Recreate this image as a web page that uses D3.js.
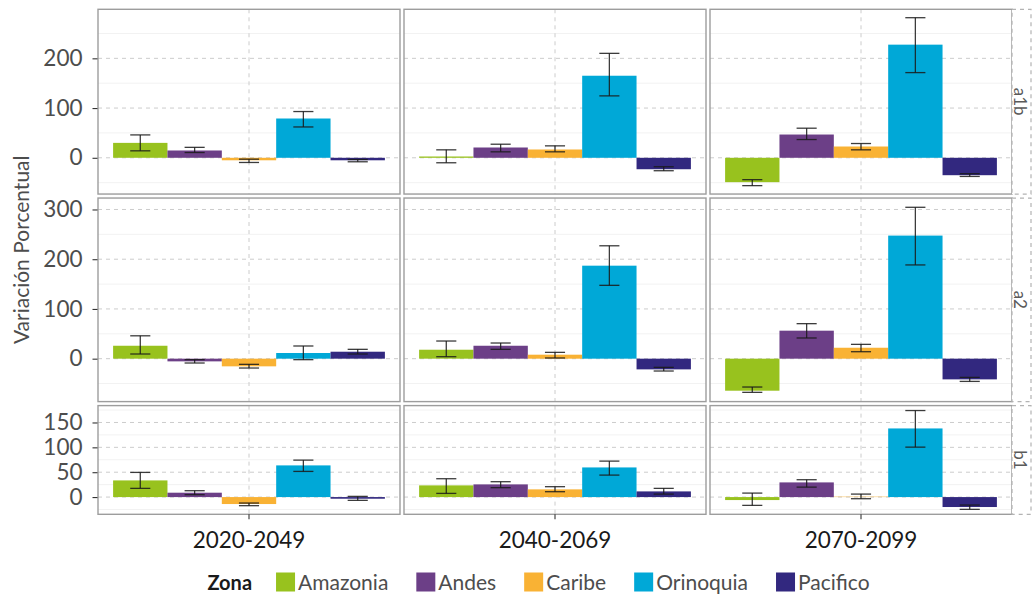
<!DOCTYPE html>
<html>
<head>
<meta charset="utf-8">
<script src="https://cdn.jsdelivr.net/npm/d3@7/dist/d3.min.js"></script>
<style>
  html, body { margin: 0; padding: 0; background: #ffffff; }
  svg { display: block; font-family: Lato, "Open Sans", sans-serif; }
</style>
</head>
<body>
<svg id="chart" width="1032" height="600"></svg>
<script>
// Zones, periods and emission scenarios
const zones = ["Amazonia", "Andes", "Caribe", "Orinoquia", "Pacifico"];
const periods = ["2020-2049", "2040-2069", "2070-2099"];
const scenarios = ["a1b", "a2", "b1"];
const zoneColors = ["#98c21e", "#6c3f87", "#f9b234", "#00a8d7", "#32287f"];

// Percent change per period (rows) and zone (columns): mean, lower and upper bound
const a1bMean = [[30, 14.7, -5, 79, -5], [2.6, 20.7, 16.7, 165, -23], [-49, 46.8, 22.7, 227.5, -35]];
const a1bLow  = [[14, 10.6, -9.4, 62, -8], [-10, 12, 12, 124.5, -26], [-56, 36.7, 16, 171.3, -37.5]];
const a1bHigh = [[46, 21, -2.8, 93, -3.4], [16, 27.3, 24, 210, -18], [-44, 59.5, 28.7, 281.7, -32]];

const a2Mean = [[26, -5.4, -15.4, 11.4, 14], [18, 26, 8, 187, -21.5], [-64.4, 56.3, 22, 247.5, -41.6]];
const a2Low  = [[9.4, -8.7, -18.8, -2, 9.4], [4, 18.8, 1.4, 147.5, -24.8], [-67.7, 41.6, 14, 188.5, -45.7]];
const a2High = [[46, -2, -11.4, 25.5, 18.8], [35.5, 31.5, 12.7, 227, -17.4], [-57, 70.4, 28.8, 304.4, -37.6]];

const b1Mean = [[33.5, 8.8, -14, 63.7, -3.3], [23.5, 25.5, 15.5, 59.6, 11.4], [-6, 29.5, 0.8, 138, -20]];
const b1Low  = [[17.5, 4.8, -17.3, 51.6, -6.6], [7.4, 18.9, 10.8, 44.2, 6], [-16.7, 20, -3.3, 100.4, -24.7]];
const b1High = [[49.6, 12.8, -12, 74.3, 1.4], [36.9, 30.9, 20.9, 72.3, 17.5], [8, 34.9, 6, 174, -16]];

// Y-axis tick labels per scenario row
const ticksA1b = [0, 100, 200];
const ticksA2 = [0, 100, 200, 300];
const ticksB1 = [0, 50, 100, 150];

const yTitle = "Variación Porcentual";
const legendTitle = "Zona";

const seriesByScenario = {
  a1b: { mean: a1bMean, low: a1bLow, high: a1bHigh, ticks: ticksA1b },
  a2:  { mean: a2Mean,  low: a2Low,  high: a2High,  ticks: ticksA2 },
  b1:  { mean: b1Mean,  low: b1Low,  high: b1High,  ticks: ticksB1 }
};

const svg = d3.select("#chart");

// Facet layout
const plotLeft = 98, panelW = 302, colGap = 4;
const plotTop = 9.3, plotBottom = 514.3, rowGap = 4;
const stripW = 19;

// Each row gets its own y range (5% padding), heights proportional to the range
const rows = scenarios.map(s => {
  const d = seriesByScenario[s];
  const all = d.mean.flat().concat(d.low.flat(), d.high.flat(), [0]);
  const lo = d3.min(all), hi = d3.max(all);
  const pad = (hi - lo) * 0.05;
  return { key: s, data: d, domain: [lo - pad, hi + pad] };
});
const totalSpan = d3.sum(rows, r => r.domain[1] - r.domain[0]);
const availH = (plotBottom - plotTop) - rowGap * (rows.length - 1);
let yCursor = plotTop;
rows.forEach(r => {
  r.h = availH * (r.domain[1] - r.domain[0]) / totalSpan;
  r.y0 = yCursor;
  r.scale = d3.scaleLinear().domain(r.domain).range([r.y0 + r.h, r.y0]);
  yCursor += r.h + rowGap;
});

const colX = d3.scaleBand().domain(periods)
  .range([plotLeft, plotLeft + 3 * panelW + 2 * colGap])
  .paddingInner(colGap / (panelW + colGap)).paddingOuter(0);

rows.forEach(r => {
  const y = r.scale;
  const ticks = r.data.ticks;
  const step = ticks[1] - ticks[0];
  const minor = d3.range(Math.floor(r.domain[0] / step) * step + step / 2, r.domain[1], step)
    .filter(v => v > r.domain[0] && v < r.domain[1]);

  periods.forEach((p, pi) => {
    const x0 = colX(p), w = colX.bandwidth();
    const g = svg.append("g");
    // minor grid
    g.selectAll("line.minor").data(minor).join("line")
      .attr("x1", x0).attr("x2", x0 + w)
      .attr("y1", d => y(d)).attr("y2", d => y(d))
      .attr("stroke", "#f2f2f2").attr("stroke-width", 1);
    // major grid
    g.selectAll("line.major").data(ticks).join("line")
      .attr("x1", x0).attr("x2", x0 + w)
      .attr("y1", d => y(d)).attr("y2", d => y(d))
      .attr("stroke", "#cccccc").attr("stroke-width", 1).attr("stroke-dasharray", "4,4");
    // vertical grid at the category centre
    g.append("line")
      .attr("x1", x0 + w / 2).attr("x2", x0 + w / 2)
      .attr("y1", r.y0).attr("y2", r.y0 + r.h)
      .attr("stroke", "#cccccc").attr("stroke-width", 1).attr("stroke-dasharray", "4,4");

    // dodged bars
    const xb = d3.scaleBand().domain(zones).range([x0 + w * 0.05, x0 + w * 0.95]).padding(0);
    const rowsData = zones.map((z, zi) => ({
      zone: z, color: zoneColors[zi],
      v: r.data.mean[pi][zi], lo: r.data.low[pi][zi], hi: r.data.high[pi][zi]
    }));
    g.selectAll("rect.bar").data(rowsData).join("rect")
      .attr("x", d => xb(d.zone))
      .attr("width", xb.bandwidth())
      .attr("y", d => y(Math.max(0, d.v)))
      .attr("height", d => Math.abs(y(d.v) - y(0)))
      .attr("fill", d => d.color);

    // error bars
    const capW = xb.bandwidth() * 0.37;
    const cx = d => xb(d.zone) + xb.bandwidth() / 2;
    const eb = g.selectAll("g.err").data(rowsData).join("g")
      .attr("stroke", "#1a1a1a").attr("stroke-width", 1.3).attr("stroke-opacity", 0.85);
    eb.append("line")
      .attr("x1", cx).attr("x2", cx)
      .attr("y1", d => y(d.lo)).attr("y2", d => y(d.hi));
    eb.append("line")
      .attr("x1", d => cx(d) - capW / 2).attr("x2", d => cx(d) + capW / 2)
      .attr("y1", d => y(d.lo)).attr("y2", d => y(d.lo));
    eb.append("line")
      .attr("x1", d => cx(d) - capW / 2).attr("x2", d => cx(d) + capW / 2)
      .attr("y1", d => y(d.hi)).attr("y2", d => y(d.hi));

    // panel border
    g.append("rect")
      .attr("x", x0).attr("y", r.y0).attr("width", w).attr("height", r.h)
      .attr("fill", "none").attr("stroke", "#9d9d9d").attr("stroke-width", 1.4);
  });

  // y axis on the first column
  const axis = d3.axisLeft(y).tickValues(ticks).tickSize(5).tickPadding(10).tickFormat(d3.format("d"));
  const ag = svg.append("g").attr("transform", `translate(${plotLeft - 0.5},0)`).call(axis);
  ag.select(".domain").remove();
  ag.selectAll(".tick line").attr("stroke", "#333333").attr("stroke-width", 1.1);
  ag.selectAll(".tick text").attr("fill", "#4d4d4d").style("font-size", "22.5px").style("font-family", "Lato, sans-serif");

  // strip on the right
  const sx = plotLeft + 3 * panelW + 2 * colGap;
  svg.append("rect")
    .attr("x", sx).attr("y", r.y0).attr("width", stripW).attr("height", r.h)
    .attr("fill", "#ffffff").attr("stroke", "#b3b3b3").attr("stroke-width", 1.2).attr("stroke-dasharray", "4,4");
  svg.append("text")
    .attr("transform", `translate(${sx + 8},${r.y0 + r.h / 2}) rotate(90)`)
    .attr("text-anchor", "middle").attr("dy", "0.35em")
    .attr("fill", "#5a5a5a").style("font-size", "17px")
    .text(r.key);
});

// x axis at the bottom
const xAxis = d3.axisBottom(colX).tickSize(5).tickPadding(13);
const xg = svg.append("g").attr("transform", `translate(0,${plotBottom})`).call(xAxis);
xg.select(".domain").remove();
xg.selectAll(".tick line").attr("stroke", "#333333").attr("stroke-width", 1.1);
xg.selectAll(".tick text").attr("fill", "#1a1a1a").style("font-size", "22.5px").style("font-family", "Lato, sans-serif");

// y title
svg.append("text")
  .attr("transform", `translate(22,${(plotTop + plotBottom) / 2 - 12}) rotate(-90)`)
  .attr("text-anchor", "middle").attr("dy", "0.35em")
  .attr("fill", "#4d4d4d").style("font-size", "21px")
  .text(yTitle);

// legend
const lg = svg.append("g");
const legY = 583, keyS = 19;
const titleT = lg.append("text").attr("x", 0).attr("y", legY).attr("dy", "0.35em")
  .attr("fill", "#1a1a1a").style("font-size", "20px").style("font-weight", "bold").text(legendTitle);
let lx = titleT.node().getComputedTextLength() + 24;
zones.forEach((z, i) => {
  lg.append("rect").attr("x", lx).attr("y", legY - keyS / 2 - 1).attr("width", keyS).attr("height", keyS).attr("fill", zoneColors[i]);
  const t = lg.append("text").attr("x", lx + keyS + 3).attr("y", legY).attr("dy", "0.35em")
    .attr("fill", "#4d4d4d").style("font-size", "21px").text(z);
  lx += keyS + 3 + t.node().getComputedTextLength() + 28;
});
const legW = lx - 28;
lg.attr("transform", `translate(${538.5 - legW / 2},0)`);
</script>
</body>
</html>
